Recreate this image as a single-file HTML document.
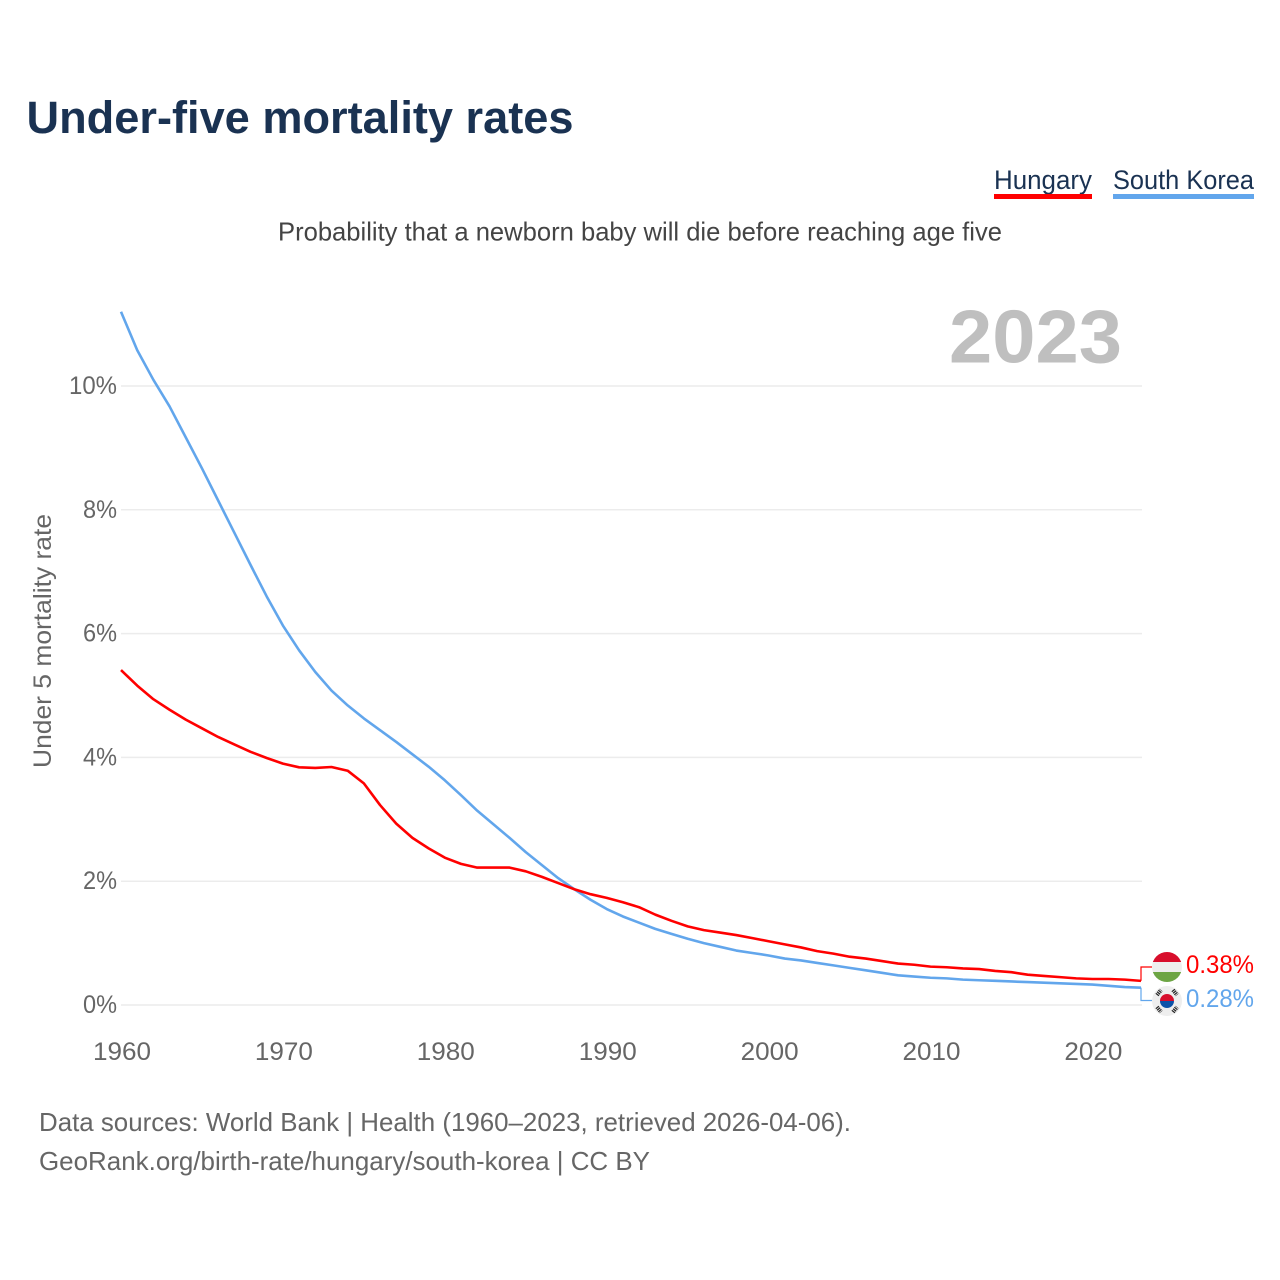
<!DOCTYPE html>
<html lang="en">
<head>
<meta charset="utf-8">
<title>Under-five mortality rates</title>
<style>
html,body{margin:0;padding:0;background:#fff;}
svg{display:block;font-family:"Liberation Sans",sans-serif;}
</style>
</head>
<body>
<svg id="chart" width="1280" height="1280" viewBox="0 0 1280 1280" xmlns="http://www.w3.org/2000/svg">
  <rect width="1280" height="1280" fill="#fff"/>
  <text x="26.5" y="133" font-size="45" font-weight="700" fill="#1a3252" textLength="547" lengthAdjust="spacingAndGlyphs">Under-five mortality rates</text>
  <g>
    <text x="994" y="189" font-size="27" fill="#1a3252" textLength="98" lengthAdjust="spacingAndGlyphs">Hungary</text>
    <rect x="994" y="194" width="98" height="5" fill="#ff0000"/>
  </g>
  <g>
    <text x="1113" y="189" font-size="27" fill="#1a3252" textLength="141" lengthAdjust="spacingAndGlyphs">South Korea</text>
    <rect x="1113" y="194" width="141" height="5" fill="#62a6ec"/>
  </g>
  <text x="278" y="240.5" font-size="26" fill="#444" textLength="724" lengthAdjust="spacingAndGlyphs">Probability that a newborn baby will die before reaching age five</text>
  <text x="949" y="362.5" font-size="75" font-weight="700" fill="#bfbfbf" textLength="173" lengthAdjust="spacingAndGlyphs">2023</text>
  <g id="grid"></g>
  <g id="yticks"></g>
  <g id="xticks"></g>
  <text transform="translate(51,641) rotate(-90)" text-anchor="middle" font-size="25" fill="#666" textLength="254" lengthAdjust="spacingAndGlyphs">Under 5 mortality rate</text>
  <g id="series"></g>
  <g id="end-labels">
    <defs>
      <clipPath id="clip-hu"><circle cx="1167" cy="967" r="15"/></clipPath>
      <clipPath id="clip-kr"><circle cx="1167" cy="1001" r="15"/></clipPath>
    </defs>
    <g clip-path="url(#clip-hu)">
      <rect x="1152" y="952" width="30" height="10" fill="#d80e2c"/>
      <rect x="1152" y="962" width="30" height="10" fill="#eeeeee"/>
      <rect x="1152" y="972" width="30" height="10" fill="#6da544"/>
    </g>
    <g clip-path="url(#clip-kr)">
      <rect x="1152" y="986" width="30" height="30" fill="#eeeeee"/>
      <path d="M1160 1001a7 7 0 0 1 14 0z" fill="#d80e2c"/>
      <path d="M1160 1001a7 7 0 0 0 14 0z" fill="#0d52a8"/>
      <g stroke="#222" stroke-width="4" stroke-dasharray="1.2 .8">
        <path d="M1157 995l4-5M1173 990l4 5M1157 1007l4 5M1173 1012l4-5"/>
      </g>
    </g>
    <text x="1186" y="973" font-size="25" fill="#ff0000" textLength="68" lengthAdjust="spacingAndGlyphs">0.38%</text>
    <text x="1186" y="1007" font-size="25" fill="#62a6ec" textLength="68" lengthAdjust="spacingAndGlyphs">0.28%</text>
  </g>
  <text x="39" y="1131" font-size="26" fill="#666" textLength="812" lengthAdjust="spacingAndGlyphs">Data sources: World Bank | Health (1960–2023, retrieved 2026-04-06).</text>
  <text x="39" y="1170" font-size="26" fill="#666" textLength="611" lengthAdjust="spacingAndGlyphs">GeoRank.org/birth-rate/hungary/south-korea | CC BY</text>
</svg>
<script>
var startYear = 1960;
var hungaryValues = [5.41,5.16,4.94,4.77,4.61,4.47,4.33,4.21,4.09,3.99,3.90,3.84,3.83,3.845,3.785,3.58,3.23,2.93,2.70,2.53,2.38,2.28,2.22,2.22,2.22,2.16,2.07,1.97,1.87,1.79,1.73,1.66,1.58,1.46,1.36,1.27,1.21,1.17,1.13,1.08,1.03,0.98,0.93,0.87,0.83,0.78,0.75,0.71,0.67,0.65,0.62,0.61,0.59,0.58,0.55,0.53,0.49,0.47,0.45,0.43,0.42,0.42,0.41,0.39];
var southKoreaValues = [11.2,10.58,10.1,9.67,9.17,8.67,8.15,7.63,7.11,6.6,6.13,5.73,5.38,5.08,4.84,4.63,4.44,4.25,4.05,3.85,3.63,3.39,3.14,2.92,2.70,2.47,2.26,2.05,1.87,1.70,1.55,1.43,1.33,1.23,1.15,1.07,1.00,0.94,0.88,0.84,0.80,0.75,0.72,0.68,0.64,0.60,0.56,0.52,0.48,0.46,0.44,0.43,0.41,0.40,0.39,0.38,0.37,0.36,0.35,0.34,0.33,0.31,0.29,0.28];
var yTickValues = [0,2,4,6,8,10];
var yTickLabels = ['0%','2%','4%','6%','8%','10%'];
var xTickYears = [1960,1970,1980,1990,2000,2010,2020];

var NS = 'http://www.w3.org/2000/svg';
function xScale(year){ return 121 + (year - 1960) * (1141 - 121) / 63; }
function yScale(v){ return 1005 - v * 61.9; }
function make(tag, attrs, parent, text){
  var el = document.createElementNS(NS, tag);
  for (var k in attrs) el.setAttribute(k, attrs[k]);
  if (text !== undefined) el.textContent = text;
  parent.appendChild(el);
  return el;
}
var grid = document.getElementById('grid');
var yticks = document.getElementById('yticks');
var xticks = document.getElementById('xticks');
var series = document.getElementById('series');

yTickValues.forEach(function(v, i){
  var line = make('line', {x1:121, x2:1142, y1:yScale(v), y2:yScale(v), stroke:'#ececec', 'stroke-width':1.5}, grid);
  
  
  var label = yTickLabels[i];
  var t = make('text', {x:117, y:yScale(v)+8, 'text-anchor':'end', 'font-size':25, fill:'#666', textLength: label.length === 3 ? 48 : 34, lengthAdjust:'spacingAndGlyphs'}, yticks, label);
  
  
});
xTickYears.forEach(function(y){
  var t = make('text', {x:xScale(y)+1, y:1060, 'text-anchor':'middle', 'font-size':25, fill:'#666', textLength:58, lengthAdjust:'spacingAndGlyphs'}, xticks, String(y));
  
  
});
function pathFor(values){
  return values.map(function(v, i){
    return (i ? 'L' : 'M') + xScale(startYear + i).toFixed(2) + ' ' + yScale(v).toFixed(2);
  }).join('');
}
var koreaLine = make('path', {d:pathFor(southKoreaValues), fill:'none', stroke:'#62a6ec', 'stroke-width':2.6, 'stroke-linejoin':'round'}, series);


var hungaryLine = make('path', {d:pathFor(hungaryValues), fill:'none', stroke:'#ff0000', 'stroke-width':2.6, 'stroke-linejoin':'round'}, series);



var endX = xScale(startYear + hungaryValues.length - 1);
var huEnd = yScale(hungaryValues[hungaryValues.length - 1]);
var krEnd = yScale(southKoreaValues[southKoreaValues.length - 1]);
var huConn = make('path', {d:'M' + endX + ' ' + huEnd + 'V967H1152', fill:'none', stroke:'#ff0000', 'stroke-width':1.2}, series);


var krConn = make('path', {d:'M' + endX + ' ' + krEnd + 'V1000.5H1152', fill:'none', stroke:'#62a6ec', 'stroke-width':1.2}, series);


</script>
</body>
</html>
